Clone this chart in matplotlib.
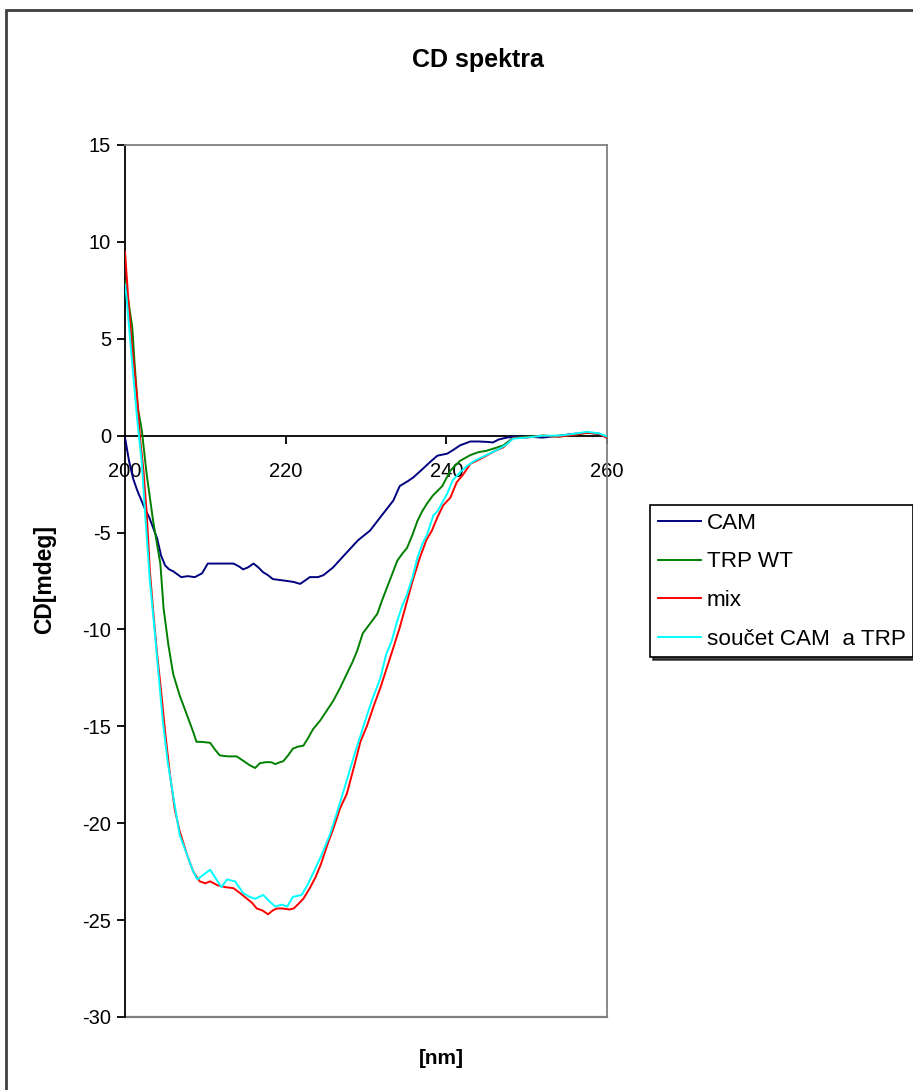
import matplotlib
matplotlib.use("Agg")
import matplotlib.pyplot as plt
from matplotlib.patches import Rectangle

plt.rcParams['font.family'] = ['Liberation Sans', 'DejaVu Sans']
plt.rcParams['axes.unicode_minus'] = False

# ---------------- data ----------------
cam_nm = [200, 200.5, 201, 201.5, 202, 202.5, 203, 203.5, 204, 204.5, 205, 205.5, 206, 207,
          207.8, 208.7, 209.6, 210.3, 211.5, 212.5, 213.5, 214.2, 214.7, 215.3, 216, 216.6,
          217.2, 217.8, 218.4, 219.3, 220.2, 221, 221.8, 222.5, 223, 224, 224.7, 225.9, 227,
          228, 229, 230.5, 231.8, 233.4, 234.2, 235.2, 235.9, 237.1, 238, 238.9, 240.1, 241,
          241.7, 243, 244, 245, 245.8, 246.5, 247.5, 248.5, 250, 252, 254, 256, 257.5, 259, 260]
cam_cd = [-0.1, -1.3, -2.2, -2.8, -3.3, -3.8, -4.2, -4.75, -5.3, -6.2, -6.7, -6.9, -7.0, -7.3,
          -7.25, -7.3, -7.1, -6.6, -6.6, -6.6, -6.6, -6.75, -6.9, -6.8, -6.6, -6.8,
          -7.05, -7.2, -7.4, -7.45, -7.5, -7.55, -7.65, -7.45, -7.3, -7.3, -7.2, -6.8, -6.3,
          -5.85, -5.4, -4.9, -4.2, -3.35, -2.6, -2.35, -2.15, -1.7, -1.35, -1.03, -0.93, -0.7,
          -0.5, -0.3, -0.3, -0.32, -0.35, -0.2, -0.1, -0.05, -0.05, -0.1, 0.0, 0.1, 0.15, 0.1, -0.1]

trp_nm = [200, 200.4, 200.9, 201.2, 201.6, 202.1, 202.7, 203.5, 204.4, 204.8, 205.4, 206, 206.8,
          207.7, 208.5, 208.9, 209.5, 210.6, 211.2, 211.8, 212.8, 213.9, 214.8, 215.5, 216.2,
          216.8, 217.5, 218.2, 218.7, 219.3, 219.7, 220.3, 220.9, 221.5, 222.2, 222.8, 223.4,
          224.3, 225.1, 225.9, 226.8, 227.6, 228.3, 228.9, 229.6, 230.5, 231.4, 232.0, 232.6,
          233.3, 233.9, 234.5, 235.1, 235.8, 236.4, 237.0, 237.6, 238.3, 238.9, 239.5, 240.5,
          241.7, 243, 244, 245, 246, 247.1, 248.3, 250, 252, 254, 256, 257.5, 259, 260]
trp_cd = [8.0, 7.0, 5.6, 3.7, 1.45, 0.25, -2.0, -4.4, -6.6, -8.9, -10.8, -12.3, -13.4,
          -14.4, -15.3, -15.8, -15.8, -15.85, -16.2, -16.5, -16.55, -16.55, -16.8, -17.0, -17.15,
          -16.9, -16.85, -16.85, -16.95, -16.85, -16.8, -16.5, -16.15, -16.05, -16.0, -15.6, -15.15,
          -14.7, -14.2, -13.7, -13.0, -12.3, -11.7, -11.1, -10.2, -9.7, -9.2, -8.5, -7.85,
          -7.1, -6.45, -6.1, -5.8, -5.1, -4.4, -3.9, -3.5, -3.1, -2.85, -2.6, -1.8,
          -1.3, -1.0, -0.85, -0.78, -0.65, -0.5, -0.12, -0.05, 0.0, -0.05, 0.05, 0.15, 0.1, -0.05]

mix_nm = [200, 200.4, 200.9, 201.5, 201.9, 202.3, 202.7, 203.1, 203.5, 204.0, 204.4, 205.0, 205.6,
          206.2, 206.8, 207.7, 208.5, 209.3, 210.0, 210.6, 211.5, 212.5, 213.5, 214.3, 215.2,
          215.8, 216.4, 217.1, 217.8, 218.4, 218.9, 219.6, 220.5, 221.0, 221.5, 222.2, 223.0,
          223.7, 224.4, 225.2, 226.0, 226.8, 227.6, 228.5, 229.3, 230.1, 231.0, 231.8, 232.5,
          233.4, 234.2, 235.0, 235.8, 236.7, 237.5, 238.2, 238.9, 239.6, 240.5, 241.3, 242.1,
          243.0, 244.0, 245.0, 246.0, 247.1, 248.3, 250, 252, 254, 256, 257.5, 259, 260]
mix_cd = [9.5, 7.1, 4.5, 2.0, -0.25, -1.8, -4.0, -7.0, -9.0, -11.3, -12.8, -15.3, -17.5,
          -19.3, -20.4, -21.6, -22.5, -23.0, -23.1, -23.0, -23.2, -23.3, -23.35, -23.6, -23.9,
          -24.1, -24.4, -24.5, -24.7, -24.5, -24.4, -24.4, -24.45, -24.4, -24.2, -23.9, -23.35,
          -22.8, -22.1, -21.1, -20.2, -19.2, -18.5, -17.1, -15.8, -15.0, -13.9, -13.0, -12.1,
          -10.95, -9.9, -8.7, -7.5, -6.3, -5.4, -4.9, -4.2, -3.6, -3.2, -2.4, -2.0,
          -1.45, -1.25, -1.03, -0.8, -0.6, -0.12, -0.1, 0.0, -0.05, 0.05, 0.15, 0.1, -0.12]

sum_nm = [200, 200.2, 200.9, 201.5, 202.1, 202.5, 203.1, 203.7, 204.0, 204.7, 205.3, 206.0, 206.8,
          207.7, 208.4, 209.0, 209.8, 210.6, 211.3, 212.0, 212.7, 213.7, 214.7, 215.5, 216.2,
          216.7, 217.2, 217.9, 218.7, 219.5, 220.2, 220.9, 222.0, 222.7, 223.4, 224.4, 225.5,
          226.5, 227.6, 228.6, 229.6, 230.7, 231.8, 232.5, 233.2, 233.9, 234.5, 235.1, 235.8,
          236.4, 237.0, 237.6, 238.4, 238.9, 240.1, 240.8, 241.7, 242.6, 243.5, 244.5, 245.5,
          246.5, 247.5, 248.3, 250, 252, 254, 256, 257.5, 259, 260]
sum_cd = [7.8, 7.1, 3.7, 0.93, -1.45, -4.0, -7.5, -10.1, -11.5, -14.7, -16.8, -18.6, -20.6,
          -21.6, -22.4, -22.9, -22.65, -22.4, -22.85, -23.3, -22.9, -23.0, -23.6, -23.8, -23.9,
          -23.8, -23.7, -24.0, -24.3, -24.2, -24.3, -23.8, -23.7, -23.2, -22.6, -21.7, -20.6,
          -19.3, -17.8, -16.4, -15.1, -13.7, -12.5, -11.3, -10.6, -9.55, -8.8, -8.2, -7.3,
          -6.3, -5.6, -5.1, -4.1, -3.9, -3.0, -2.3, -1.9, -1.55, -1.3, -1.1, -0.9,
          -0.7, -0.45, -0.15, -0.1, 0.0, 0.0, 0.1, 0.2, 0.12, -0.05]

series_labels = ["CAM", "TRP WT", "mix", "součet CAM  a TRP"]
series_colors = ["#000080", "#008000", "#FF0000", "#00FFFF"]
x_ticks = [200, 220, 240, 260]
y_ticks = [-30, -25, -20, -15, -10, -5, 0, 5, 10, 15]

# ---------------- figure ----------------
W, H = 913, 1090
fig = plt.figure(figsize=(W / 100, H / 100), dpi=100)
fig.patch.set_facecolor("white")

# outer chart-area border (only left and top visible)
fig.patches.append(Rectangle((6 / W, -0.1), 1.2, 1 - 10 / H + 0.1, transform=fig.transFigure,
                             fill=False, edgecolor="#404040", linewidth=2.0, zorder=0))

ax = fig.add_axes([125 / W, 1 - 1017 / H, (607 - 125) / W, (1017 - 145) / H])
ax.set_xlim(200, 260)
ax.set_ylim(-30, 15)

data = [(cam_nm, cam_cd), (trp_nm, trp_cd), (mix_nm, mix_cd), (sum_nm, sum_cd)]
for (xs, ys), lab, col in zip(data, series_labels, series_colors):
    ax.plot(xs, ys, color=col, linewidth=1.4, label=lab, zorder=3)

# spines
ax.spines['left'].set_color("black")
ax.spines['left'].set_linewidth(1.3)
ax.spines['bottom'].set_position(('data', 0))
ax.spines['bottom'].set_color("black")
ax.spines['bottom'].set_linewidth(1.3)
ax.spines['bottom'].set_zorder(2)
for s in ('top', 'right'):
    ax.spines[s].set_color("#808080")
    ax.spines[s].set_linewidth(1.3)
ax.plot([0, 1], [0, 0], transform=ax.transAxes, color="#808080", linewidth=1.6, clip_on=False)

ax.set_xticks(x_ticks)
ax.set_yticks(y_ticks)
ax.tick_params(axis='x', direction='out', length=6, width=1.3, pad=13, labelsize=14.5)
ax.tick_params(axis='y', direction='out', length=6, width=1.3, pad=4, labelsize=14.5)

fig.text(478 / W, 1 - 60 / H, "CD spektra", ha='center', va='center', fontsize=18,
         fontweight='bold')
fig.text(45 / W, 1 - 580 / H, "CD[mdeg]", ha='center', va='center', rotation=90,
         fontsize=16.5, fontweight='bold')
fig.text(441 / W, 1 - 1058 / H, "[nm]", ha='center', va='center', fontsize=15,
         fontweight='bold')

leg = ax.legend(loc='upper left', bbox_to_anchor=(650 / W, 1 - 505 / H),
                bbox_transform=fig.transFigure, fontsize=16.2, frameon=True, fancybox=False,
                shadow={'color': 'black', 'alpha': 0.7, 'ox': 2, 'oy': -2},
                handlelength=1.9, handletextpad=0.27, labelspacing=0.78, borderpad=0.35,
                borderaxespad=0)
leg.get_frame().set_edgecolor("black")
leg.get_frame().set_linewidth(1.2)
for line in leg.get_lines():
    line.set_linewidth(1.4)

fig.savefig("out.png", dpi=100, facecolor="white")
